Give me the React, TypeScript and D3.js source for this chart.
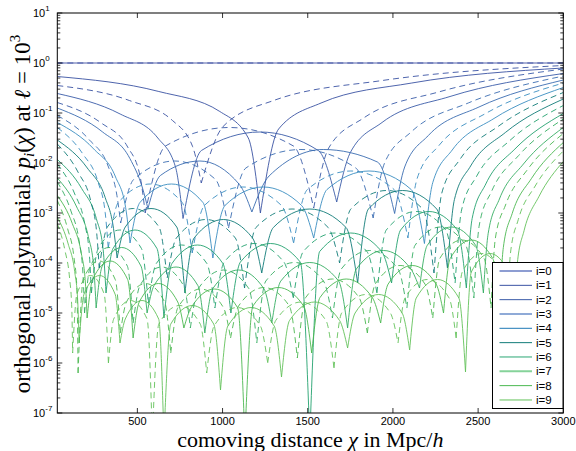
import React from "react";
import * as d3 from "d3";

// ---------- data (chi in Mpc/h, log10 |p_i|) ----------
const chiDomain: [number, number] = [30, 3000];
const pDomain: [number, number] = [1e-7, 10];
const xTicks = [500, 1000, 1500, 2000, 2500, 3000];
const yExponents = [-7, -6, -5, -4, -3, -2, -1, 0, 1];
const legendLabels = ["i=0", "i=1", "i=2", "i=3", "i=4", "i=5", "i=6", "i=7", "i=8", "i=9"];
const seriesColors = ["#3d4fa1", "#3a52a3", "#3a5ba8", "#3a6cb1", "#3a8dc1", "#117c78", "#23a26e", "#36ae62", "#4bb850", "#63c25a"];

type K = [number, number];

const S0: K[] = [[30, 0], [3000, 0]];
const S1: K[] = [[30,-0.27],[626,-0.57],[984,-0.97],[1151,-1.5],[1222,-3.0],[1329,-1.32],[1578,-0.8],[2111,-0.4],[3000,-0.1]];
const S2: K[] = [[30,-0.61],[399,-1.02],[620,-1.5],[723,-2.07],[768,-3.11],[876,-1.75],[1219,-1.38],[1562,-1.75],[1670,-2.78],[1750,-1.79],[1936,-1.19],[2335,-0.67],[3000,-0.21]];
const S3: K[] = [[30,-0.9],[296,-1.38],[456,-1.91],[530,-2.5],[562,-2.91],[635,-2.25],[867,-1.96],[1099,-2.43],[1172,-2.98],[1273,-2.26],[1591,-1.73],[1909,-1.98],[2010,-3.01],[2069,-2.08],[2208,-1.45],[2505,-0.88],[3000,-0.34]];
const S4: K[] = [[30,-1.19],[244,-1.72],[372,-2.28],[431,-2.89],[457,-3.6],[515,-2.79],[700,-2.42],[885,-2.79],[943,-3.9],[1014,-2.85],[1239,-2.48],[1464,-2.85],[1535,-3.5],[1613,-2.53],[1860,-2.16],[2107,-2.53],[2185,-3.61],[2234,-2.39],[2348,-1.74],[2593,-1.11],[3000,-0.49]];
const S5: K[] = [[30,-1.54],[206,-2.1],[311,-2.69],[360,-3.31],[381,-3.9],[429,-3.28],[580,-2.91],[731,-3.28],[779,-4.6],[833,-3.5],[1005,-3.13],[1176,-3.5],[1230,-4.2],[1298,-3.29],[1512,-2.92],[1725,-3.29],[1793,-4.4],[1856,-2.92],[2057,-2.55],[2257,-2.92],[2320,-4.1],[2361,-2.73],[2456,-2.06],[2660,-1.39],[3000,-0.72]];
const S6: K[] = [[30,-1.93],[173,-2.51],[259,-3.11],[299,-3.73],[316,-4.6],[357,-3.71],[486,-3.34],[615,-3.71],[656,-5.1],[703,-4.01],[853,-3.64],[1002,-4.01],[1049,-5.0],[1105,-3.98],[1281,-3.61],[1456,-3.98],[1512,-7.5],[1570,-3.77],[1752,-3.4],[1934,-3.77],[1992,-4.4],[2045,-3.34],[2212,-2.97],[2378,-3.34],[2431,-4.5],[2465,-3.11],[2545,-2.42],[2716,-1.72],[3000,-1.01]];
const S7: K[] = [[30,-2.3],[144,-2.88],[212,-3.47],[244,-4.09],[258,-4.9],[294,-4.06],[408,-3.69],[521,-4.06],[557,-5.0],[598,-4.45],[727,-4.08],[855,-4.45],[896,-5.4],[943,-4.51],[1093,-4.14],[1242,-4.51],[1289,-5.2],[1342,-4.36],[1512,-3.99],[1681,-4.36],[1734,-5.3],[1785,-4.12],[1945,-3.75],[2105,-4.12],[2156,-4.5],[2201,-3.65],[2344,-3.28],[2486,-3.65],[2531,-4.6],[2559,-3.41],[2625,-2.72],[2766,-2.02],[3000,-1.29]];
const S8: K[] = [[30,-2.65],[118,-3.21],[170,-3.79],[195,-4.4],[205,-5.1],[237,-4.33],[340,-3.96],[443,-4.33],[475,-5.5],[511,-4.78],[624,-4.41],[737,-4.78],[773,-5.3],[816,-4.89],[952,-4.52],[1088,-4.89],[1131,-7.5],[1178,-4.86],[1327,-4.49],[1476,-4.86],[1523,-5.8],[1572,-4.69],[1726,-4.32],[1879,-4.69],[1928,-5.2],[1972,-4.42],[2113,-4.05],[2253,-4.42],[2297,-5.0],[2336,-3.91],[2461,-3.54],[2586,-3.91],[2625,-4.9],[2648,-3.69],[2700,-3.01],[2813,-2.31],[3000,-1.59]];
const S9: K[] = [[30,-3.08],[94,-3.62],[132,-4.17],[150,-4.77],[158,-5.6],[187,-4.62],[278,-4.25],[369,-4.62],[398,-5.6],[429,-5.12],[527,-4.75],[625,-5.12],[656,-7.5],[696,-5.22],[822,-4.85],[948,-5.22],[988,-6.54],[1031,-5.26],[1167,-4.89],[1303,-5.26],[1346,-6.28],[1393,-5.15],[1540,-4.78],[1687,-5.15],[1734,-5.7],[1778,-5.0],[1916,-4.63],[2054,-5.0],[2098,-5.74],[2137,-4.7],[2262,-4.33],[2387,-4.7],[2426,-6.18],[2460,-4.18],[2570,-3.81],[2679,-4.18],[2713,-5.0],[2730,-4.01],[2770,-3.35],[2857,-2.67],[3000,-1.97]];

const D0: K[] = [[30, 0], [3000, 0]];
const D1: K[] = [[30,-0.45],[453,-0.75],[706,-1.15],[824,-1.67],[875,-2.4],[1003,-1.27],[1300,-0.75],[1938,-0.35],[3000,-0.05]];
const D2: K[] = [[30,-0.79],[288,-1.2],[443,-1.68],[515,-2.25],[546,-3.0],[665,-1.66],[1040,-1.29],[1416,-1.66],[1535,-2.9],[1623,-1.7],[1828,-1.1],[2268,-0.58],[3000,-0.12]];
const D3: K[] = [[30,-1.05],[216,-1.53],[328,-2.06],[380,-2.65],[402,-3.2],[478,-2.33],[719,-1.96],[959,-2.33],[1035,-3.3],[1137,-2.1],[1460,-1.73],[1782,-2.1],[1884,-3.1],[1951,-2.0],[2107,-1.38],[2442,-0.8],[3000,-0.26]];
const D4: K[] = [[30,-1.29],[180,-1.82],[269,-2.38],[311,-2.99],[329,-3.7],[388,-2.79],[576,-2.42],[763,-2.79],[822,-3.8],[893,-2.85],[1120,-2.48],[1346,-2.85],[1417,-3.6],[1498,-2.53],[1753,-2.16],[2007,-2.53],[2088,-3.5],[2143,-2.3],[2270,-1.65],[2544,-1.01],[3000,-0.4]];
const D5: K[] = [[30,-1.62],[153,-2.19],[227,-2.77],[261,-3.39],[276,-4.1],[324,-3.28],[476,-2.91],[627,-3.28],[675,-4.3],[729,-3.5],[902,-3.13],[1075,-3.5],[1129,-4.5],[1196,-3.29],[1408,-2.92],[1620,-3.29],[1687,-4.0],[1753,-2.92],[1964,-2.55],[2175,-2.92],[2241,-4.2],[2287,-2.6],[2393,-1.93],[2621,-1.26],[3000,-0.59]];
const D6: K[] = [[30,-2.02],[130,-2.6],[190,-3.2],[218,-3.82],[230,-4.6],[270,-3.71],[397,-3.34],[524,-3.71],[564,-4.8],[611,-4.01],[760,-3.64],[908,-4.01],[955,-4.9],[1010,-3.98],[1185,-3.61],[1360,-3.98],[1415,-4.7],[1474,-3.77],[1661,-3.4],[1847,-3.77],[1906,-4.6],[1961,-3.34],[2136,-2.97],[2310,-3.34],[2365,-4.4],[2403,-2.94],[2492,-2.26],[2683,-1.56],[3000,-0.85]];
const D7: K[] = [[30,-2.38],[110,-2.96],[158,-3.56],[180,-4.18],[190,-5.0],[224,-4.06],[333,-3.69],[441,-4.06],[475,-5.2],[515,-4.45],[643,-4.08],[771,-4.45],[811,-5.3],[858,-4.51],[1006,-4.14],[1154,-4.51],[1201,-5.6],[1254,-4.36],[1423,-3.99],[1592,-4.36],[1645,-5.1],[1697,-4.12],[1864,-3.75],[2030,-4.12],[2082,-4.9],[2129,-3.65],[2279,-3.28],[2428,-3.65],[2475,-4.7],[2507,-3.24],[2580,-2.56],[2738,-1.85],[3000,-1.12]];
const D8: K[] = [[30,-2.75],[91,-3.32],[128,-3.89],[145,-4.5],[152,-6.2],[182,-4.33],[276,-3.96],[370,-4.33],[400,-5.4],[436,-4.78],[548,-4.41],[660,-4.78],[696,-5.8],[738,-4.89],[872,-4.52],[1005,-4.89],[1047,-5.5],[1094,-4.86],[1243,-4.49],[1392,-4.86],[1439,-5.9],[1488,-4.69],[1645,-4.32],[1801,-4.69],[1850,-5.4],[1896,-4.42],[2042,-4.05],[2188,-4.42],[2234,-5.1],[2275,-3.91],[2405,-3.54],[2535,-3.91],[2576,-4.9],[2601,-3.51],[2661,-2.84],[2788,-2.14],[3000,-1.41]];
const D9: K[] = [[30,-3.21],[75,-3.75],[102,-4.3],[115,-4.9],[120,-5.8],[145,-4.62],[225,-4.25],[305,-4.62],[330,-6.0],[361,-5.12],[459,-4.75],[557,-5.12],[588,-7.5],[626,-5.22],[748,-4.85],[869,-5.22],[907,-6.2],[950,-5.26],[1086,-4.89],[1222,-5.26],[1265,-6.0],[1312,-5.15],[1460,-4.78],[1607,-5.15],[1654,-6.1],[1699,-5.0],[1842,-4.63],[1985,-5.0],[2030,-5.6],[2071,-4.7],[2201,-4.33],[2330,-4.7],[2371,-5.5],[2407,-4.18],[2521,-3.81],[2634,-4.18],[2670,-5.2],[2690,-3.8],[2736,-3.13],[2835,-2.46],[3000,-1.76]];

const solidSeries = [S0, S1, S2, S3, S4, S5, S6, S7, S8, S9];
const dashedSeries = [D0, D1, D2, D3, D4, D5, D6, D7, D8, D9];

// ---------- layout ----------
const W = 576, H = 451;
const L = 57.3, R = 563.3, T = 13, B = 413;

const x = d3.scaleLinear().domain(chiDomain).range([L, R]);
const y = d3.scaleLog().domain(pDomain).range([B, T]);

const line = d3.line<K>()
  .x(d => x(d[0]))
  .y(d => y(Math.pow(10, d[1])))
  .curve(d3.curveMonotoneX);

// split a knot list at its zeros (local minima) so the dips stay sharp
function splitAtZeros(k: K[]): K[][] {
  const out: K[][] = [];
  let cur: K[] = [k[0]];
  for (let j = 1; j < k.length; j++) {
    cur.push(k[j]);
    if (j < k.length - 1 && k[j][1] < k[j - 1][1] && k[j][1] < k[j + 1][1]) {
      out.push(cur);
      cur = [k[j]];
    }
  }
  out.push(cur);
  return out;
}

const tickFont = "'Liberation Sans', Arial, Helvetica, sans-serif";
const serif = "'Liberation Serif', 'Times New Roman', Times, serif";

export default function App() {
  const minor: number[] = [];
  for (let e = -7; e < 1; e++) for (let m = 2; m <= 9; m++) minor.push(m * Math.pow(10, e));

  const legendColors = ["#8d9dd2", "#3a52a3", "#3a5ba8", "#8faad7", "#4b93c4", "#117c78", "#2aa673", "#86d39a", "#4bb850", "#63c25a"];
  const legendWidths = [2, 1, 1, 2, 1.3, 1, 1, 2, 1, 1];

  return (
    <svg width={W} height={H} style={{ position: "absolute", left: 0, top: 0, display: "block", background: "#fff" }}>
      <defs>
        <clipPath id="plotclip">
          <rect x={L} y={T} width={R - L} height={B - T} />
        </clipPath>
      </defs>
      <rect x={0} y={0} width={W} height={H} fill="#fff" />
      <g clipPath="url(#plotclip)" fill="none">
        {solidSeries.map((s, i) =>
          splitAtZeros(s).map((p, j) => (
            <path key={"s" + i + "-" + j} d={line(p) || ""} stroke={seriesColors[i]} strokeWidth={0.9} />
          ))
        )}
        {dashedSeries.map((s, i) =>
          splitAtZeros(s).map((p, j) => (
            <path key={"d" + i + "-" + j} d={line(p) || ""} stroke={seriesColors[i]} strokeWidth={0.9} strokeDasharray="6,4" />
          ))
        )}
      </g>

      {/* ticks */}
      <g stroke="#000" strokeWidth={0.8}>
        {xTicks.map(t => (
          <g key={"xt" + t}>
            <line x1={x(t)} x2={x(t)} y1={B} y2={B - 5} />
            <line x1={x(t)} x2={x(t)} y1={T} y2={T + 5} />
          </g>
        ))}
        {yExponents.map(e => (
          <g key={"yt" + e}>
            <line x1={L} x2={L + 5} y1={y(Math.pow(10, e))} y2={y(Math.pow(10, e))} />
            <line x1={R} x2={R - 5} y1={y(Math.pow(10, e))} y2={y(Math.pow(10, e))} />
          </g>
        ))}
        {minor.map((v, k) => (
          <g key={"ym" + k}>
            <line x1={L} x2={L + 3} y1={y(v)} y2={y(v)} />
            <line x1={R} x2={R - 3} y1={y(v)} y2={y(v)} />
          </g>
        ))}
      </g>
      <rect x={L} y={T} width={R - L} height={B - T} fill="none" stroke="#000" strokeWidth={1} />

      {/* tick labels */}
      <g fontFamily={tickFont} fontSize={11} fill="#000">
        {xTicks.map(t => (
          <text key={"xl" + t} x={x(t)} y={B + 12} textAnchor="middle">{t}</text>
        ))}
        {yExponents.map(e => (
          <text key={"yl" + e} x={33} y={y(Math.pow(10, e)) + 4}>
            10<tspan dy={-6} fontSize={8}>{e}</tspan>
          </text>
        ))}
      </g>

      {/* axis labels */}
      <text x={(L + R) / 2} y={447} textAnchor="middle" fontFamily={serif} fontSize={22} fill="#000">
        comoving distance <tspan fontStyle="italic">χ</tspan> in Mpc/<tspan fontStyle="italic">h</tspan>
      </text>
      <text transform={`translate(30,${(T + B) / 2 + 1}) rotate(-90)`} textAnchor="middle" fontFamily={serif} fontSize={23} fill="#000">
        orthogonal polynomials <tspan fontStyle="italic">p</tspan>
        <tspan fontStyle="italic" fontSize={15} dy={4}>i</tspan>
        <tspan dy={-4}>(</tspan><tspan fontStyle="italic">χ</tspan>) at <tspan fontStyle="italic">ℓ</tspan> = 10
        <tspan fontSize={15} dy={-10}>3</tspan>
      </text>

      {/* legend */}
      <g>
        <rect x={492.5} y={262.5} width={70.5} height={146} fill="#fff" stroke="#000" strokeWidth={1} />
        {legendLabels.map((lab, i) => {
          const yy = 271 + i * 14.33;
          return (
            <g key={"lg" + i}>
              <line x1={499.5} x2={532} y1={yy} y2={yy} stroke={legendColors[i]} strokeWidth={legendWidths[i]} />
              <text x={536} y={yy + 4} fontFamily={tickFont} fontSize={11.5} fill="#000">{lab}</text>
            </g>
          );
        })}
      </g>
    </svg>
  );
}
